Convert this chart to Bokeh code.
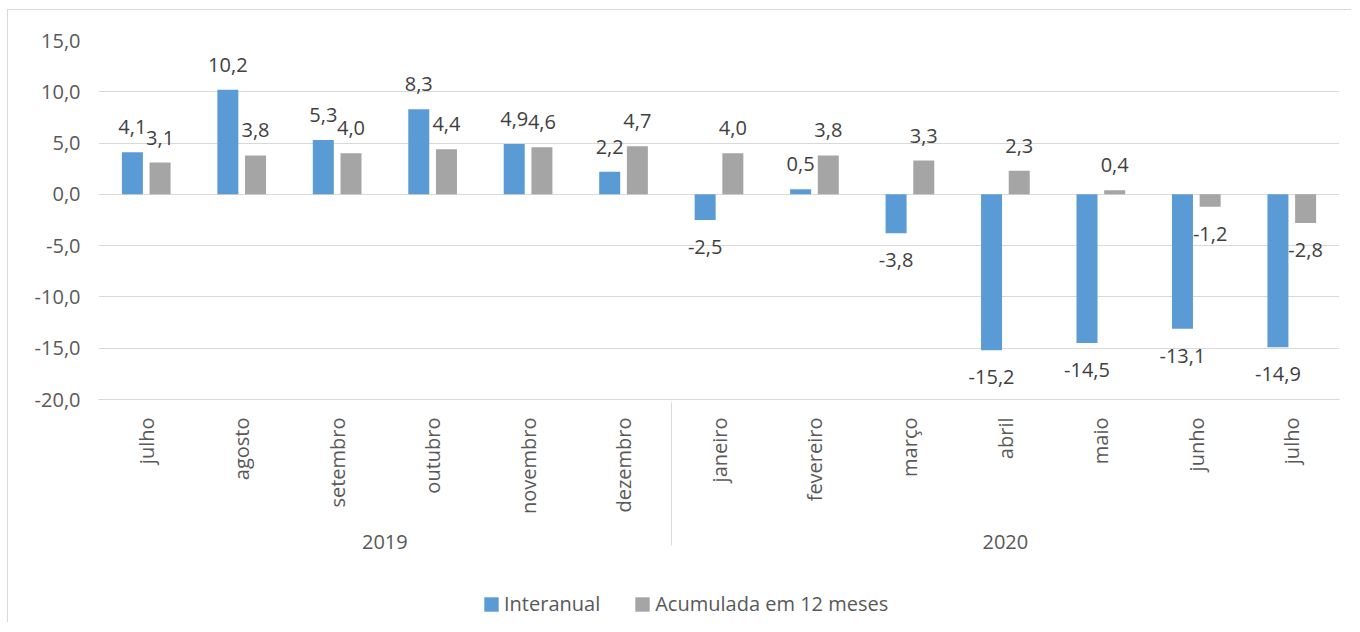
import math
from bokeh.plotting import figure
from bokeh.layouts import column
from bokeh.models import (ColumnDataSource, FactorRange, LabelSet, Legend, LegendItem,
                          CustomJSTickFormatter, FixedTicker, Range1d)
from bokeh.transform import dodge
from bokeh.core.properties import value
from bokeh.embed import file_html
from bokeh.resources import INLINE

years = ["2019"] * 6 + ["2020"] * 7
months = ["julho", "agosto", "setembro", "outubro", "novembro", "dezembro",
          "janeiro", "fevereiro", "março", "abril", "maio", "junho", "julho"]
interanual = [4.1, 10.2, 5.3, 8.3, 4.9, 2.2, -2.5, 0.5, -3.8, -15.2, -14.5, -13.1, -14.9]
acumulada = [3.1, 3.8, 4.0, 4.4, 4.6, 4.7, 4.0, 3.8, 3.3, 2.3, 0.4, -1.2, -2.8]
y_ticks = [-20, -15, -10, -5, 0, 5, 10, 15]
series_names = ["Interanual", "Acumulada em 12 meses"]

FONT = "Open Sans"
TXT = "#595959"
GRID = "#D9D9D9"
BLUE = "#5B9BD5"
GRAY = "#A5A5A5"

factors = list(zip(years, months))


def fmt(v):
    return f"{v:.1f}".replace(".", ",")


def make_source(vals):
    return ColumnDataSource(dict(
        x=factors,
        y=vals,
        label=[fmt(v) for v in vals],
        off=[25 if v >= 0 else -27 for v in vals],
    ))


src_a = make_source(interanual)
src_b = make_source(acumulada)

x_range = FactorRange(factors=factors, group_padding=0, factor_padding=0, range_padding=0)

p = figure(x_range=x_range, y_range=Range1d(-20, 15),
           frame_width=1241, frame_height=359,
           min_border_left=90, min_border_right=12, min_border_top=30, min_border_bottom=165,
           output_backend="svg", toolbar_location=None)
p.outline_line_color = None

OFF = 0.145
W = 0.22
r_a = p.vbar(x=dodge("x", -OFF, range=p.x_range), top="y", width=W, source=src_a,
             fill_color=BLUE, line_color=None)
r_b = p.vbar(x=dodge("x", OFF, range=p.x_range), top="y", width=W, source=src_b,
             fill_color=GRAY, line_color=None)

for src, off in ((src_a, -OFF), (src_b, OFF)):
    p.add_layout(LabelSet(x=dodge("x", off, range=p.x_range), y="y", text="label",
                          y_offset="off", source=src, text_align="center",
                          text_baseline="middle", text_font=value(FONT),
                          text_font_size="20px", text_color="#404040"))

# y axis
p.yaxis.ticker = FixedTicker(ticks=y_ticks)
p.yaxis.formatter = CustomJSTickFormatter(code="return tick.toFixed(1).replace('.', ',');")
p.yaxis.axis_line_color = None
p.yaxis.major_tick_line_color = None
p.yaxis.minor_tick_line_color = None
p.yaxis.major_tick_out = 0
p.yaxis.major_label_text_font = FONT
p.yaxis.major_label_text_font_size = "20px"
p.yaxis.major_label_text_color = TXT
p.yaxis.major_label_standoff = 18

# x axis
xa = p.xaxis[0]
xa.axis_line_color = GRID
xa.major_tick_line_color = None
xa.major_tick_out = 0
xa.major_label_orientation = math.pi / 2
xa.major_label_standoff = 18
xa.major_label_text_font = FONT
xa.major_label_text_font_size = "20px"
xa.major_label_text_color = TXT
xa.group_text_font = FONT
xa.group_text_font_size = "20px"
xa.group_text_color = TXT
xa.group_text_font_style = "normal"
xa.separator_line_color = GRID
xa.separator_line_width = 1

p.xgrid.grid_line_color = None
p.ygrid.grid_line_color = GRID
p.ygrid.grid_line_width = 1

# legend strip (separate small figure below the chart); its bars fall outside its y range
lg = figure(width=1343, height=58, x_range=p.x_range, y_range=Range1d(100, 101),
            min_border=0, output_backend="svg", toolbar_location=None)
lg.outline_line_color = None
lg.axis.visible = False
lg.grid.visible = False
k_a = lg.vbar(x=dodge("x", -OFF, range=lg.x_range), top="y", width=W, source=src_a,
              fill_color=BLUE, line_color=None)
k_b = lg.vbar(x=dodge("x", OFF, range=lg.x_range), top="y", width=W, source=src_b,
              fill_color=GRAY, line_color=None)
legend = Legend(items=[LegendItem(label=series_names[0], renderers=[k_a]),
                       LegendItem(label=series_names[1], renderers=[k_b])],
                orientation="horizontal", location=(384, 5),
                glyph_width=18, glyph_height=18, label_standoff=4, spacing=33,
                label_text_font=FONT, label_text_font_size="20px", label_text_color=TXT,
                border_line_color=None, background_fill_alpha=0, margin=0, padding=4)
lg.add_layout(legend, "center")

layout = column(p, lg, spacing=0)
layout.styles = {"border-top": "1px solid #D9D9D9", "border-left": "1px solid #D9D9D9",
                 "margin-left": "7px", "margin-top": "9px"}

open("out.html", "w").write(file_html(layout, INLINE))
